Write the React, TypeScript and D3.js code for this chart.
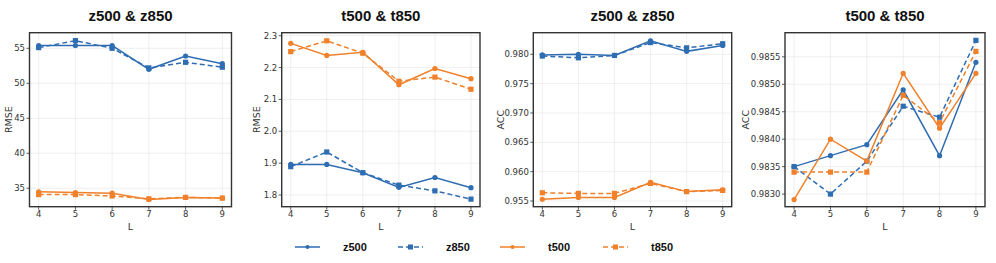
import React from "react";
import * as d3 from "d3";

const L = [4, 5, 6, 7, 8, 9];

// Panel 1: RMSE z500 & z850
const p1_z500 = [55.4, 55.4, 55.4, 52.0, 53.9, 52.8];
const p1_z850 = [55.1, 56.1, 55.0, 52.2, 53.0, 52.3];
const p1_t500 = [34.5, 34.4, 34.3, 33.4, 33.7, 33.6];
const p1_t850 = [34.1, 34.1, 33.9, 33.5, 33.7, 33.6];

// Panel 2: RMSE t500 & t850
const p2_z500 = [1.896, 1.896, 1.870, 1.824, 1.855, 1.823];
const p2_z850 = [1.889, 1.935, 1.870, 1.831, 1.813, 1.787];
const p2_t500 = [2.276, 2.238, 2.248, 2.146, 2.197, 2.165];
const p2_t850 = [2.250, 2.284, 2.245, 2.157, 2.170, 2.132];

// Panel 3: ACC z500 & z850
const p3_z500 = [0.9799, 0.98, 0.9798, 0.9823, 0.9805, 0.9815];
const p3_z850 = [0.9797, 0.9794, 0.9798, 0.982, 0.9811, 0.9818];
const p3_t500 = [0.9553, 0.9556, 0.9556, 0.9582, 0.9566, 0.9569];
const p3_t850 = [0.9564, 0.9563, 0.9563, 0.958, 0.9566, 0.9568];

// Panel 4: ACC t500 & t850
const p4_z500 = [0.9835, 0.9837, 0.9839, 0.9849, 0.9837, 0.9854];
const p4_z850 = [0.9835, 0.983, 0.9836, 0.9846, 0.9844, 0.9858];
const p4_t500 = [0.9829, 0.984, 0.9836, 0.9852, 0.9842, 0.9852];
const p4_t850 = [0.9834, 0.9834, 0.9834, 0.9848, 0.9843, 0.9856];

const titles = ["z500 & z850", "t500 & t850", "z500 & z850", "t500 & t850"];
const yLabels = ["RMSE", "RMSE", "ACC", "ACC"];
const yTicks1 = [35, 40, 45, 50, 55];
const yTicks2 = [1.8, 1.9, 2.0, 2.1, 2.2, 2.3];
const yTicks3 = [0.955, 0.96, 0.965, 0.97, 0.975, 0.98];
const yTicks4 = [0.983, 0.9835, 0.984, 0.9845, 0.985, 0.9855];
const seriesNames = ["z500", "z850", "t500", "t850"];

const BLUE = "#2f6db3";
const ORANGE = "#f0802a";
const styles = [
  { color: BLUE, dash: false },
  { color: BLUE, dash: true },
  { color: ORANGE, dash: false },
  { color: ORANGE, dash: true },
];

const panels = [
  { x0: 29.5, x1: 231.5, ylab: 12, dom: [32.37, 57.23], ticks: yTicks1, fmt: d3.format("d"), data: [p1_z500, p1_z850, p1_t500, p1_t850] },
  { x0: 281.7, x1: 480, ylab: 260, dom: [1.7633, 2.3094], ticks: yTicks2, fmt: d3.format(".1f"), data: [p2_z500, p2_z850, p2_t500, p2_t850] },
  { x0: 533.3, x1: 731.7, ylab: 504, dom: [0.95403, 0.98368], ticks: yTicks3, fmt: d3.format(".3f"), data: [p3_z500, p3_z850, p3_t500, p3_t850] },
  { x0: 785, x1: 985, ylab: 749, dom: [0.98277, 0.98594], ticks: yTicks4, fmt: d3.format(".4f"), data: [p4_z500, p4_z850, p4_t500, p4_t850] },
];

const TOP = 32.7;
const BOTTOM = 206.7;
const TICKFONT = "DejaVu Sans, sans-serif";
const BOLDFONT = "Liberation Sans, Arial, sans-serif";

function Marker({ x, y, color, square }: { x: number; y: number; color: string; square: boolean }) {
  return square ? (
    <rect x={x - 2.6} y={y - 2.6} width={5.2} height={5.2} fill={color} />
  ) : (
    <circle cx={x} cy={y} r={2.6} fill={color} />
  );
}

function Panel({ p, i }: { p: any; i: number }) {
  const x = d3.scaleLinear().domain([3.75, 9.25]).range([p.x0, p.x1]);
  const y = d3.scaleLinear().domain(p.dom).range([BOTTOM, TOP]);
  const line = d3
    .line<number>()
    .x((_, k) => x(L[k]))
    .y((d) => y(d));
  const cx = (p.x0 + p.x1) / 2;
  return (
    <g>
      {L.map((v) => (
        <line key={"gx" + v} x1={x(v)} x2={x(v)} y1={TOP} y2={BOTTOM} stroke="#ebebeb" strokeWidth={0.8} />
      ))}
      {p.ticks.map((v: number) => (
        <line key={"gy" + v} x1={p.x0} x2={p.x1} y1={y(v)} y2={y(v)} stroke="#ebebeb" strokeWidth={0.8} />
      ))}
      {p.data.map((s: number[], si: number) => (
        <g key={si}>
          <path
            d={line(s) || ""}
            fill="none"
            stroke={styles[si].color}
            strokeWidth={1.5}
            strokeDasharray={styles[si].dash ? "5,3" : undefined}
          />
          {s.map((v, k) => (
            <Marker key={k} x={x(L[k])} y={y(v)} color={styles[si].color} square={styles[si].dash} />
          ))}
        </g>
      ))}
      <rect x={p.x0} y={TOP} width={p.x1 - p.x0} height={BOTTOM - TOP} fill="none" stroke="#333" strokeWidth={1.4} />
      {p.ticks.map((v: number) => (
        <g key={"ty" + v}>
          <line x1={p.x0 - 3} x2={p.x0} y1={y(v)} y2={y(v)} stroke="#333" strokeWidth={0.8} />
          <text x={p.x0 - 4.5} y={y(v)} dy="0.36em" textAnchor="end" fontSize={8.5} fill="#333" fontFamily={TICKFONT}>
            {p.fmt(v)}
          </text>
        </g>
      ))}
      {L.map((v) => (
        <g key={"tx" + v}>
          <line x1={x(v)} x2={x(v)} y1={BOTTOM} y2={BOTTOM + 3} stroke="#333" strokeWidth={0.8} />
          <text x={x(v)} y={BOTTOM + 9.8} textAnchor="middle" fontSize={8.5} fill="#333" fontFamily={TICKFONT}>
            {v}
          </text>
        </g>
      ))}
      <text x={cx} y={229.5} textAnchor="middle" fontSize={9.5} fill="#333" fontFamily={TICKFONT}>
        L
      </text>
      <text
        transform={`translate(${p.ylab},${(TOP + BOTTOM) / 2}) rotate(-90)`}
        textAnchor="middle"
        fontSize={9.5}
        fill="#333"
        fontFamily={TICKFONT}
      >
        {yLabels[i]}
      </text>
      <text x={cx} y={21} textAnchor="middle" fontSize={15} fontWeight="bold" fill="#111" fontFamily={BOLDFONT}>
        {titles[i]}
      </text>
    </g>
  );
}

const legendX = [295, 398, 500, 603];

export default function App() {
  return (
    <svg width={996} height={263} style={{ position: "absolute", left: 0, top: 0, background: "#fff" }}>
      <rect width={996} height={263} fill="#fff" />
      {panels.map((p, i) => (
        <Panel key={i} p={p} i={i} />
      ))}
      {seriesNames.map((n, si) => (
        <g key={n} transform={`translate(${legendX[si]},247)`}>
          <line x1={0} x2={25} y1={0} y2={0} stroke={styles[si].color} strokeWidth={1.5} strokeDasharray={styles[si].dash ? "5,3" : undefined} />
          {styles[si].dash ? (
            <rect x={10} y={-2.5} width={5} height={5} fill={styles[si].color} />
          ) : (
            <circle cx={12.5} cy={0} r={2} fill={styles[si].color} />
          )}
          <text x={48} y={4} fontSize={11} fontWeight="bold" fill="#111" fontFamily={BOLDFONT}>
            {n}
          </text>
        </g>
      ))}
    </svg>
  );
}
